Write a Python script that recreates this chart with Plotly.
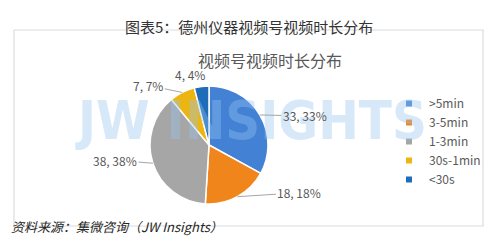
import math
import plotly.graph_objects as go

# ---- data ----
categories = [">5min", "3-5min", "1-3min", "30s-1min", "<30s"]
values = [33, 18, 38, 7, 4]
colors = ["#4381D5", "#F0861B", "#A6A6A6", "#ECB512", "#1F6CB8"]

title_main = "图表5：德州仪器视频号视频时长分布"
title_inner = "视频号视频时长分布"
source_text = "资料来源：集微咨询（JW Insights）"

# ---- layout constants (pixels) ----
W, H = 500, 249
PX0, PX1, PYT, PYB = 150, 268, 86, 204   # pie box
CX, CY, R = (PX0 + PX1) / 2, (PYT + PYB) / 2, (PX1 - PX0) / 2
label_offsets = [(45, 1), (62, -4), (-38, -3), (-34, -7), (-12, -12)]
label_arrow = [True, True, True, True, False]

def px(x):
    return x / W

def py(y):
    return 1 - y / H

fig = go.Figure()

fig.add_trace(go.Pie(
    labels=categories, values=values, sort=False, direction="clockwise",
    rotation=0, marker=dict(colors=colors, line=dict(color="white", width=1.5)),
    textinfo="none", hoverinfo="label+value+percent", showlegend=False,
    domain=dict(x=[px(PX0), px(PX1)], y=[py(PYB), py(PYT)]),
))

# legend entries (small square swatches)
for c, col in zip(categories, colors):
    fig.add_trace(go.Scatter(
        x=[None], y=[None], mode="markers", name=c,
        marker=dict(symbol="square", size=6, color=col),
    ))

total = sum(values)
cum = 0
annotations = []

# watermark (drawn first, behind labels)
annotations.append(dict(
    x=px(251), y=py(120), xref="paper", yref="paper", showarrow=False,
    text="JW INSIGHTS",
    font=dict(family="DejaVu Sans Condensed, Liberation Sans Narrow, Roboto", size=54,
              color="rgba(150,195,240,0.38)", weight="bold"),
))

# slice labels with leader lines, positioned from the data's angles
for v, (ax, ay), arr in zip(values, label_offsets, label_arrow):
    mid = (cum + v / 2) / total * 2 * math.pi
    cum += v
    ex = CX + R * math.sin(mid)
    ey = CY - R * math.cos(mid)
    pct = round(v / total * 100)
    annotations.append(dict(
        x=px(ex), y=py(ey), xref="paper", yref="paper",
        text=f"{v}, {pct}%", showarrow=True, arrowhead=0, arrowwidth=1,
        arrowcolor="#A6A6A6" if arr else "rgba(0,0,0,0)",
        ax=ax, ay=ay, standoff=0,
        font=dict(family="Noto Sans CJK SC", size=12, color="#595959"),
    ))

# titles and source
annotations.append(dict(
    x=px(249), y=py(14), xref="paper", yref="paper", showarrow=False,
    text=title_main,
    font=dict(family="Noto Sans CJK SC", size=15, color="#333333"),
))
annotations.append(dict(
    x=px(270), y=py(46), xref="paper", yref="paper", showarrow=False,
    text=title_inner,
    font=dict(family="Noto Sans CJK SC", size=16, color="#595959"),
))
annotations.append(dict(
    x=px(9), y=py(238), xref="paper", yref="paper", showarrow=False,
    xanchor="left", text=source_text,
    font=dict(family="Noto Sans CJK SC", size=13, color="#262626", style="italic"),
))

fig.update_layout(
    width=W, height=H, margin=dict(l=0, r=0, t=0, b=0),
    paper_bgcolor="white", plot_bgcolor="white",
    xaxis=dict(visible=False), yaxis=dict(visible=False),
    annotations=annotations,
    shapes=[dict(type="rect", xref="paper", yref="paper",
                 x0=px(14), x1=px(483), y0=py(226), y1=py(30),
                 line=dict(color="#DCDCDC", width=1.2), layer="below")],
    legend=dict(x=px(389), y=py(89), xanchor="left", yanchor="top",
                font=dict(family="Noto Sans CJK SC", size=12, color="#595959"),
                bgcolor="rgba(0,0,0,0)", itemwidth=30, tracegroupgap=0),
)

fig.write_html("out.html")
